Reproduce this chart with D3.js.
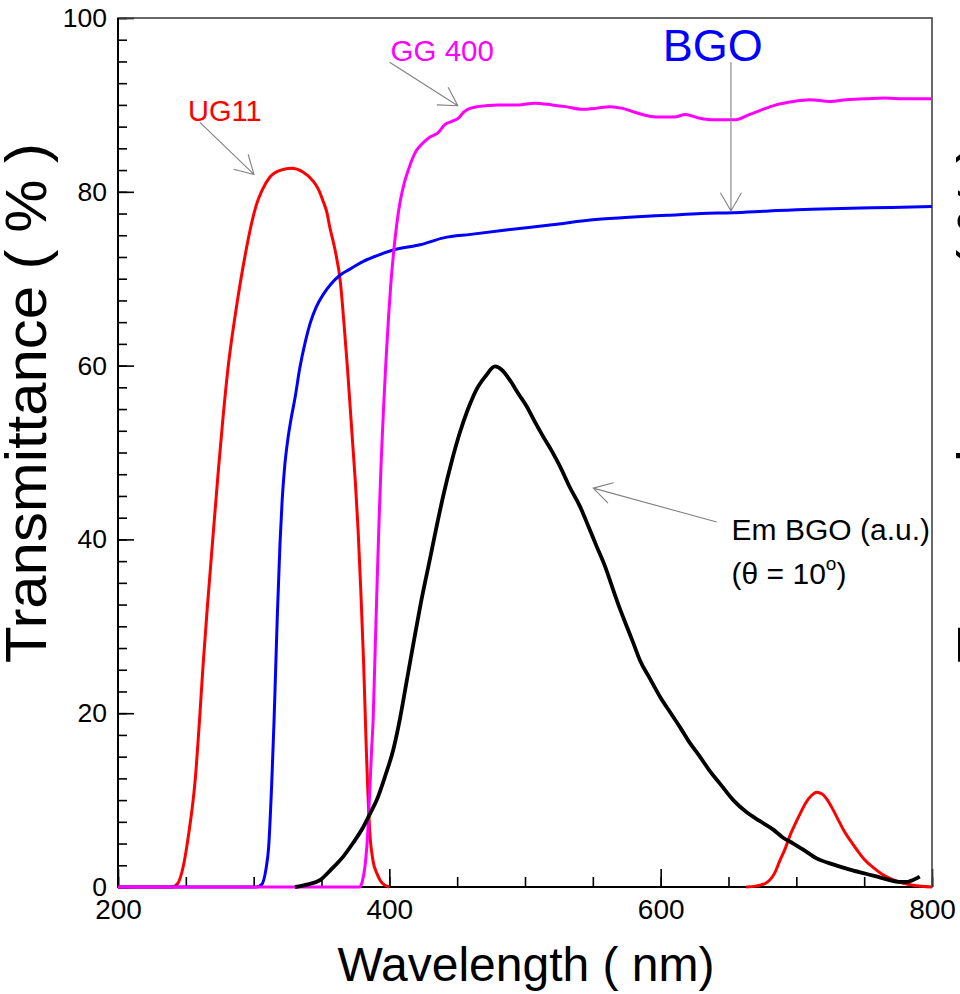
<!DOCTYPE html>
<html lang="en">
<head>
<meta charset="UTF-8">
<title>Transmittance</title>
<script src="https://d3js.org/d3.v7.min.js"></script>
<style>
  body { margin: 0; background: #fff; }
  svg text { font-family: "Liberation Sans", Arial, Helvetica, sans-serif; }
</style>
</head>
<body>
<script>
var width = 960, height = 994;

// [wavelength nm, transmittance %]
var ug11Main = [[200,0],[240,0],[244,0.4],[248,2.3],[252,6],[257,12.5],[260,19],[262.7,25.5],[266,32.5],
  [270.2,40.7],[274,48],[277.4,54],[281,59.6],[286.2,65.6],[290,69.4],[293.6,72.6],[298.5,76.4],
  [302,78.5],[306,80.1],[312,81.7],[320,82.5],[328,82.7],[336,82.3],[344,81.2],[348,80.2],[351,79],
  [354,77.6],[356,76],[360,73.3],[364,69.5],[367,64],[369,60],[371,55.5],[373,51],[375,46.5],[377,41],
  [379,34],[381,26],[383,16],[385.5,6.5],[388,3],[391,1.5],[395,0.4],[400,0]];
var ug11Leak = [[663,0],[670,0.1],[678,0.5],[684,1.6],[688,3.1],[692,4.5],[695,5.8],[699,7.2],[703,8.5],
  [707,9.7],[711,10.5],[715,10.9],[719,10.7],[723,10],[727,8.9],[731,7.7],[735,6.5],[740,5.3],[745,4.2],
  [750,3.2],[757,2.2],[763,1.5],[769,1],[777,0.5],[786,0.2],[800,0]];
var gg400 = [[200,0],[378,0],[380,0.6],[382,2.3],[384,6],[385.7,11.5],[387,16],[388,19],[389.5,27],
  [391,35],[392.5,42.5],[394,49],[395.7,55],[397.5,60.5],[399.3,65.3],[401,69.2],[403,72.8],[405.5,76.3],
  [408,78.9],[411,81],[414,82.5],[417,83.8],[420.2,84.8],[424,85.5],[430,86.3],[436,86.8],[440.7,87.7],
  [446,88.1],[451.2,88.5],[455,89.2],[458,89.5],[465,89.8],[480.5,90],[495,90],[507,90.2],[520,90],
  [530,89.8],[541.5,89.5],[552,89.6],[562.6,89.8],[572,89.6],[582,89.1],[591.8,88.7],[600,88.6],
  [610,88.6],[618.3,88.9],[628,88.5],[636.9,88.3],[646,88.3],[655.4,88.3],[664,88.8],[674,89.4],
  [685,90],[697.9,90.4],[710,90.6],[724.4,90.4],[737,90.6],[751,90.7],[765,90.8],[780,90.7],[800,90.7]];
var bgo = [[200,0],[302,0],[306,0.3],[309,2],[311,4.5],[313.3,11.9],[315,19],[316.2,25],[317.5,31.5],
  [319.4,39.5],[321,44.5],[322.8,48.3],[325,51.3],[327.5,53.8],[330.5,56.3],[334.1,59.8],[338,62.7],
  [341.5,64.8],[346,66.7],[351.3,68.2],[357,69.4],[363.6,70.4],[371,71.1],[378.4,71.8],[390,72.6],
  [402.9,73.3],[422.6,73.9],[440,74.7],[460,75.1],[486,75.6],[520,76.2],[552,76.8],[580,77.1],[605,77.3],
  [630,77.5],[653,77.6],[680,77.8],[711,78.0],[740,78.1],[770,78.2],[800,78.3]];
var emBgo = [[330.5,0],[340,0.3],[348.9,0.8],[357,2],[366,3.5],[373,5],[380.8,6.9],[386,8.5],[390.7,10],
  [397,12.8],[402.9,15.8],[408,19.5],[412.7,23.6],[417.6,27.9],[423,32.5],[430,37.8],[435,41.6],[440,45.2],
  [446,49],[452,52.3],[458,55],[464.4,57.3],[471,58.8],[477.9,59.9],[483,59.5],[489,58.3],[495,56.8],
  [501.3,55.3],[507,53.6],[513.5,51.8],[520,50.1],[525.8,48.4],[533,46],[540.5,43.8],[547,41.4],
  [552.8,39.2],[559,36.9],[565,34.2],[570,32],[576,29.6],[580,28],[584.7,26.1],[592,24],[599.5,21.9],
  [607,20.1],[614.2,18.4],[621,16.7],[628.9,15],[636,13.4],[643.7,11.9],[653.5,10],[663.4,8.6],[673,7.6],
  [683,6.6],[690,5.7],[697.8,5.0],[705,4.3],[715,3.3],[727,2.6],[739.5,2.0],[752,1.5],[764,1.0],
  [776,0.6],[782,0.6],[786,0.8],[791,1.2]];

var xTicks = [200, 400, 600, 800];
var yTicks = [0, 20, 40, 60, 80, 100];

var svg = d3.select("body").append("svg").attr("width", width).attr("height", height);

var x = d3.scaleLinear().domain([200, 800]).range([118, 932]);
var y = d3.scaleLinear().domain([0, 100]).range([887, 18]);

// minor ticks
svg.append("g").attr("transform", "translate(0,887)")
  .call(d3.axisBottom(x).tickValues(d3.range(200, 801, 50)).tickSizeInner(-10).tickSizeOuter(0).tickFormat(""))
  .call(function(g) { g.select(".domain").remove(); });
svg.append("g").attr("transform", "translate(118,0)")
  .call(d3.axisLeft(y).tickValues(d3.range(0, 100.1, 2.5)).tickSizeInner(-9).tickSizeOuter(0).tickFormat(""))
  .call(function(g) { g.select(".domain").remove(); });

// major ticks + labels
var gx = svg.append("g").attr("transform", "translate(0,887)")
  .call(d3.axisBottom(x).tickValues(xTicks).tickSizeInner(-18).tickSizeOuter(0).tickPadding(12));
gx.select(".domain").remove();
gx.attr("font-size", 28).attr("font-family", null);

var gy = svg.append("g").attr("transform", "translate(118,0)")
  .call(d3.axisLeft(y).tickValues(yTicks).tickSizeInner(-16).tickSizeOuter(0).tickPadding(11));
gy.select(".domain").remove();
gy.attr("font-size", 26.5).attr("font-family", null);
svg.selectAll(".tick line").attr("stroke-width", 1.6);

// frame
svg.append("rect").attr("x", 118).attr("y", 18).attr("width", 814).attr("height", 869)
  .attr("fill", "none").attr("stroke", "#444").attr("stroke-width", 1.6);
svg.append("path").attr("d", "M118,18V887H932").attr("fill", "none").attr("stroke", "#000").attr("stroke-width", 2);

// curves
var line = d3.line().x(function(d) { return x(d[0]); }).y(function(d) { return y(d[1]); }).curve(d3.curveMonotoneX);
var series = [
  {data: ug11Main, color: "#ff0000", w: 3},
  {data: ug11Leak, color: "#ff0000", w: 3},
  {data: bgo, color: "#0000ff", w: 3},
  {data: gg400, color: "#ff00ff", w: 3},
  {data: emBgo, color: "#000000", w: 3.8}
];
svg.selectAll(".curve").data(series).enter().append("path")
  .attr("class", "curve")
  .attr("d", function(d) { return line(d.data); })
  .attr("fill", "none")
  .attr("stroke", function(d) { return d.color; })
  .attr("stroke-width", function(d) { return d.w; })
  .attr("stroke-linejoin", "round");

// annotations
function arrow(p0, p1) {
  var x0 = x(p0[0]), y0 = y(p0[1]), x1 = x(p1[0]), y1 = y(p1[1]);
  var a = Math.atan2(y1 - y0, x1 - x0), L = 21, h = Math.PI / 6;
  var d = "M" + x0 + "," + y0 + "L" + x1 + "," + y1 +
    "M" + (x1 - L * Math.cos(a - h)) + "," + (y1 - L * Math.sin(a - h)) + "L" + x1 + "," + y1 +
    "L" + (x1 - L * Math.cos(a + h)) + "," + (y1 - L * Math.sin(a + h));
  svg.append("path").attr("d", d).attr("fill", "none").attr("stroke", "#808080").attr("stroke-width", 1.1);
}
function label(p, txt, size, color) {
  return svg.append("text").attr("x", x(p[0])).attr("y", y(p[1]))
    .attr("font-size", size).attr("fill", color).text(txt);
}

label([251.6, 88.2], "UG11", 29, "#ff0000");
arrow([260.4, 88.0], [300.2, 82.0]);
label([400.9, 95], "GG 400", 29.5, "#ff00ff");
arrow([400.2, 94.9], [450.5, 89.9]);
label([601.5, 95.1], "BGO", 45, "#0000ff");
arrow([651.8, 94.9], [651.8, 77.8]);
label([652.3, 39.9], "Em BGO (a.u.)", 30, "#000");
arrow([641.3, 42.0], [550.3, 45.9]);
var th = label([652.3, 34.9], "(\u03b8 = 10", 30, "#000");
th.append("tspan").attr("font-size", 19).attr("dy", -14).text("o");
th.append("tspan").attr("dy", 14).text(")");

// axis titles
svg.append("text").attr("x", 526).attr("y", 981).attr("text-anchor", "middle")
  .attr("font-size", 48).text("Wavelength ( nm)");
// second copy belongs to the neighbouring panel, only its edge shows at the right border
[46, 998].forEach(function(bx) {
  svg.append("text").attr("transform", "translate(" + bx + ",403) rotate(-90) scale(1.05,1)")
    .attr("text-anchor", "middle").attr("font-size", 57).text("Transmittance ( % )");
});
</script>
</body>
</html>
